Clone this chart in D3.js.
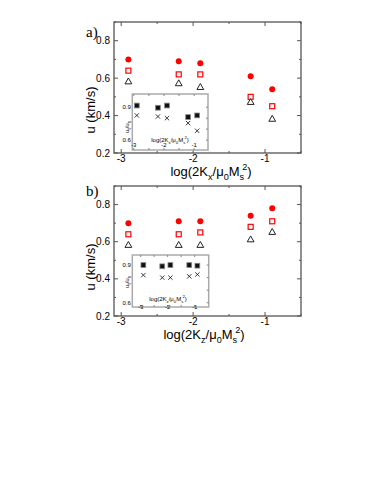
<!DOCTYPE html>
<html>
<head>
<meta charset="utf-8">
<script src="https://cdn.jsdelivr.net/npm/d3@7"></script>
<style>
  body { margin: 0; background: #fff; }
  svg { font-family: "Liberation Sans", Arial, sans-serif; }
</style>
</head>
<body>
<svg id="chart" width="374" height="484"></svg>
<script>
// x positions shared by all series
var xVals = [-2.9, -2.2, -1.9, -1.2, -0.9];

// panel a)
var aFilled = [0.70, 0.69, 0.68, 0.61, 0.54];
var aSquare = [0.64, 0.62, 0.62, 0.50, 0.45];
var aTriangle = [0.58, 0.57, 0.55, 0.47, 0.38];
var aInsetSquare = [0.915, 0.895, 0.915, 0.81, 0.825];
var aInsetCross = [0.825, 0.815, 0.80, 0.755, 0.685];

// panel b)
var bFilled = [0.70, 0.71, 0.71, 0.74, 0.78];
var bSquare = [0.64, 0.64, 0.65, 0.68, 0.71];
var bTriangle = [0.58, 0.58, 0.58, 0.61, 0.65];
var bInsetSquare = [0.90, 0.89, 0.90, 0.90, 0.895];
var bInsetCross = [0.82, 0.80, 0.80, 0.81, 0.825];

var mainXTicks = [-3, -2, -1];
var mainXMinor = [-2.5, -1.5, -0.5];
var mainYTicks = [0.2, 0.4, 0.6, 0.8];
var mainYMinor = [0.3, 0.5, 0.7, 0.9];
var insetXTicks = [-3, -2, -1];
var insetYTicks = [0.6, 0.9];

var svg = d3.select('#chart');
var axisColor = '#555';

function toPairs(ys) {
	return ys.map(function (y, i) { return { x: xVals[i], y: y }; });
}

// writes log(2K_k/μ0Ms^2) with sub/superscripts
function logTitle(sel, k, size) {
	var sub = size * 0.3, sm = size * 0.7;
	sel.append('tspan').text('log(2K');
	sel.append('tspan').attr('dy', sub).attr('font-size', sm).text(k);
	sel.append('tspan').attr('dy', -sub).text('/\u03bc');
	sel.append('tspan').attr('dy', sub).attr('font-size', sm).text('0');
	sel.append('tspan').attr('dy', -sub).text('M');
	sel.append('tspan').attr('dy', sub).attr('font-size', sm).text('s');
	sel.append('tspan').attr('dy', -size * 0.75).attr('dx', -size * 0.15).attr('font-size', sm).text('2');
	sel.append('tspan').attr('dy', size * 0.45).text(')');
}

function drawPanel(p) {
	var x = d3.scaleLinear().domain([-3.1, -0.5]).range([p.left, p.left + 187]);
	var y = d3.scaleLinear().domain([0.2, 0.9]).range([p.top + p.h, p.top]);
	var g = svg.append('g');

	// frame
	g.append('rect')
		.attr('x', x.range()[0]).attr('y', p.top)
		.attr('width', 187).attr('height', p.h)
		.attr('fill', 'none').attr('stroke', axisColor).attr('stroke-width', 1.3);

	// inward ticks on all sides
	var xt = mainXTicks.map(function (v) { return { v: v, l: 4 }; })
		.concat(mainXMinor.map(function (v) { return { v: v, l: 2 }; }));
	var yt = mainYTicks.map(function (v) { return { v: v, l: 4 }; })
		.concat(mainYMinor.map(function (v) { return { v: v, l: 2 }; }));
	xt.forEach(function (t) {
		g.append('line').attr('x1', x(t.v)).attr('x2', x(t.v))
			.attr('y1', p.top + p.h).attr('y2', p.top + p.h - t.l)
			.attr('stroke', axisColor);
		g.append('line').attr('x1', x(t.v)).attr('x2', x(t.v))
			.attr('y1', p.top).attr('y2', p.top + t.l)
			.attr('stroke', axisColor);
	});
	yt.forEach(function (t) {
		g.append('line').attr('y1', y(t.v)).attr('y2', y(t.v))
			.attr('x1', p.left).attr('x2', p.left + t.l)
			.attr('stroke', axisColor);
		g.append('line').attr('y1', y(t.v)).attr('y2', y(t.v))
			.attr('x1', p.left + 187).attr('x2', p.left + 187 - t.l)
			.attr('stroke', axisColor);
	});

	// tick labels
	g.selectAll('.xl').data(mainXTicks).enter().append('text')
		.attr('x', function (d) { return x(d); })
		.attr('y', p.top + p.h + 9)
		.attr('text-anchor', 'middle').attr('font-size', 10)
		.text(function (d) { return d; });
	g.selectAll('.yl').data(mainYTicks).enter().append('text')
		.attr('x', p.left - 4)
		.attr('y', function (d) { return y(d) + 3.5; })
		.attr('text-anchor', 'end').attr('font-size', 10)
		.text(function (d) { return d.toFixed(1); });

	// axis titles
	g.append('text')
		.attr('transform', 'translate(95,' + p.yTitleY + ') rotate(-90)')
		.attr('text-anchor', 'middle').attr('font-size', 13)
		.text('u (km/s)');
	var xtitle = g.append('text')
		.attr('x', p.xTitleX).attr('y', p.top + p.h + 23)
		.attr('text-anchor', 'middle').attr('font-size', 13);
	logTitle(xtitle, p.k, 13);

	// panel letter
	g.append('text')
		.attr('x', 86).attr('y', p.letterY)
		.attr('font-family', '"Liberation Serif", "Times New Roman", serif')
		.attr('font-size', 15)
		.text(p.letter);

	// markers
	g.selectAll('.tri').data(toPairs(p.triangle)).enter().append('path')
		.attr('d', d3.symbol().type(d3.symbolTriangle).size(20))
		.attr('transform', function (d) { return 'translate(' + x(d.x) + ',' + y(d.y) + ')'; })
		.attr('fill', 'none').attr('stroke', '#222').attr('stroke-width', 1);
	g.selectAll('.sq').data(toPairs(p.square)).enter().append('rect')
		.attr('x', function (d) { return x(d.x) - 2.5; })
		.attr('y', function (d) { return y(d.y) - 2.5; })
		.attr('width', 5).attr('height', 5)
		.attr('fill', 'none').attr('stroke', '#f00').attr('stroke-width', 1.2);
	g.selectAll('.fc').data(toPairs(p.filled)).enter().append('circle')
		.attr('cx', function (d) { return x(d.x); })
		.attr('cy', function (d) { return y(d.y); })
		.attr('r', 3).attr('fill', '#f00');

	drawInset(p.inset, p.insetSquare, p.insetCross, p.k);
}

function drawInset(b, sq, cr, k) {
	var x = d3.scaleLinear().domain(b.xDomain).range([b.left, b.right]);
	var y = d3.scaleLinear().domain(b.yDomain).range([b.bottom, b.top]);
	var g = svg.append('g');

	g.append('rect')
		.attr('x', b.left).attr('y', b.top)
		.attr('width', b.right - b.left).attr('height', b.bottom - b.top)
		.attr('fill', '#fff').attr('stroke', '#aaa').attr('stroke-width', 1.5);

	[-3, -2.5, -2, -1.5, -1].forEach(function (v) {
		g.append('line').attr('x1', x(v)).attr('x2', x(v))
			.attr('y1', b.top).attr('y2', b.top + 2).attr('stroke', '#888');
		g.append('line').attr('x1', x(v)).attr('x2', x(v))
			.attr('y1', b.bottom).attr('y2', b.bottom - 2).attr('stroke', '#888');
	});
	[0.6, 0.7, 0.8, 0.9].forEach(function (v) {
		g.append('line').attr('y1', y(v)).attr('y2', y(v))
			.attr('x1', b.right).attr('x2', b.right - 2).attr('stroke', '#888');
	});

	g.selectAll('.ixl').data(insetXTicks).enter().append('text')
		.attr('x', function (d) { return x(d); })
		.attr('y', b.bottom + b.labelDy)
		.attr('text-anchor', 'middle').attr('font-size', 6)
		.text(function (d) { return d; });
	g.selectAll('.iyl').data(insetYTicks).enter().append('text')
		.attr('x', b.left - 1.5)
		.attr('y', function (d) { return y(d) + 2; })
		.attr('text-anchor', 'end').attr('font-size', 6)
		.text(function (d) { return d.toFixed(1); });

	var t = g.append('text')
		.attr('x', b.titleX).attr('y', b.titleY)
		.attr('text-anchor', 'middle').attr('font-size', 6);
	logTitle(t, k, 6);

	var yt = g.append('text')
		.attr('transform', 'translate(' + (b.left - 3) + ',' + b.yTitleY + ') rotate(-90)')
		.attr('text-anchor', 'middle').attr('font-size', 6);
	yt.append('tspan').text('u');
	yt.append('tspan').attr('dy', 1.8).attr('font-size', 4.5).text('t');
	yt.append('tspan').attr('dy', -1.8).text('/u');
	yt.append('tspan').attr('dy', 1.8).attr('font-size', 4.5).text('s');

	g.selectAll('.isq').data(toPairs(sq)).enter().append('rect')
		.attr('x', function (d) { return x(d.x) - 2.4; })
		.attr('y', function (d) { return y(d.y) - 2.4; })
		.attr('width', 4.8).attr('height', 4.8)
		.attr('fill', '#111').attr('stroke', '#888').attr('stroke-width', 0.8);
	g.selectAll('.icr').data(toPairs(cr)).enter().append('path')
		.attr('d', d3.symbol().type(d3.symbolX).size(14))
		.attr('transform', function (d) { return 'translate(' + x(d.x) + ',' + y(d.y) + ')'; })
		.attr('fill', 'none').attr('stroke', '#222').attr('stroke-width', 0.9);
}

drawPanel({
	letter: 'a)', k: 'x', left: 114, top: 22, h: 131, yTitleY: 110, xTitleX: 211, letterY: 37,
	filled: aFilled, square: aSquare, triangle: aTriangle,
	insetSquare: aInsetSquare, insetCross: aInsetCross,
	inset: { left: 132.3, right: 208, top: 94, bottom: 150,
		xDomain: [-3.05, -0.54], yDomain: [0.51, 1.02],
		labelDy: -3, titleX: 170, titleY: 142, yTitleY: 127 }
});

drawPanel({
	letter: 'b)', k: 'z', left: 114, top: 186, h: 130, yTitleY: 267, xTitleX: 204, letterY: 196,
	filled: bFilled, square: bSquare, triangle: bTriangle,
	insetSquare: bInsetSquare, insetCross: bInsetCross,
	inset: { left: 132.3, right: 208.7, top: 255, bottom: 307,
		xDomain: [-3.31, -0.48], yDomain: [0.566, 0.98],
		labelDy: 2, titleX: 168, titleY: 301, yTitleY: 282 }
});
</script>
</body>
</html>
